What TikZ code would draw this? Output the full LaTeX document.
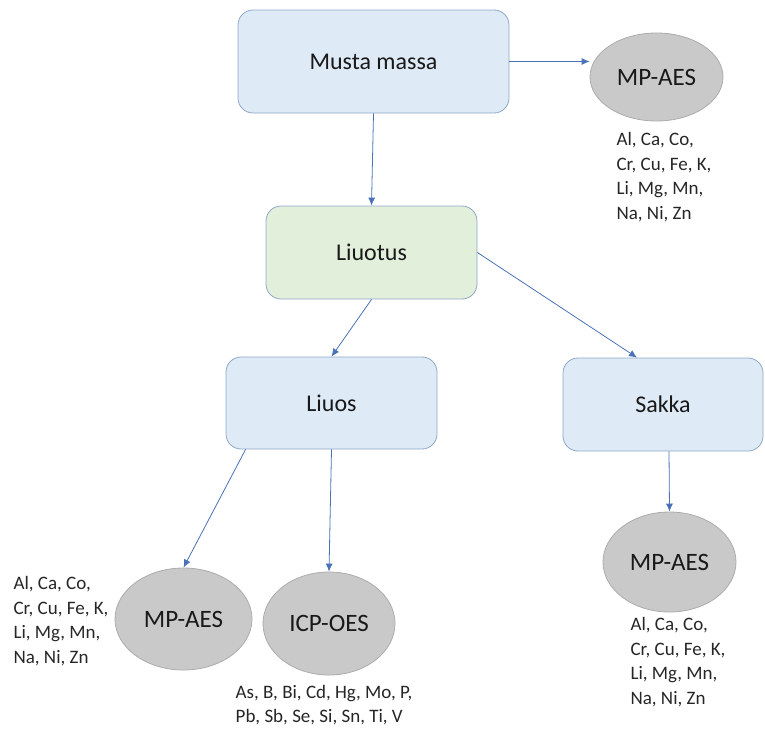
\documentclass[tikz,border=0pt]{standalone}
\usepackage{fontspec}
\setmainfont{Carlito}
\usetikzlibrary{arrows.meta,shapes.geometric}
\definecolor{boxblue}{HTML}{DEEAF6}
\definecolor{boxgreen}{HTML}{E2EFDA}
\definecolor{boxline}{HTML}{8EA8C8}
\definecolor{ovalgray}{HTML}{C9C9C9}
\definecolor{ovalline}{HTML}{ABABAB}
\definecolor{arrblue}{HTML}{4A72B8}
\tikzset{
	box/.style 2 args={draw=boxline,fill=boxblue,rounded corners=15pt,line width=0.8pt,minimum width=#1,minimum height=#2,font=\fontsize{24}{28}\selectfont,text=black!90},
	gbox/.style 2 args={box={#1}{#2},fill=boxgreen},
	oval/.style 2 args={ellipse,draw=ovalline,fill=ovalgray,line width=0.8pt,minimum width=#1,minimum height=#2,inner sep=0pt,font=\fontsize{25}{29}\selectfont,text=black!90},
	elist/.style={align=left,inner sep=0pt,font=\fontsize{19}{24.5}\selectfont,text=black!85},
	arr/.style={draw=arrblue,line width=0.8pt,-{Latex[length=8pt,width=7pt]}}
}
\begin{document}
\begin{tikzpicture}[x=1pt,y=-1pt]
	\useasboundingbox (0,0) rectangle (765,728);
	\node [box={271pt}{103pt}] (musta) at (373.5,61.5) {Musta massa};
	\node [gbox={211pt}{93pt}] (liuotus) at (371.5,252.5) {Liuotus};
	\node [box={211pt}{92pt}] (liuos) at (331.5,403) {Liuos};
	\node [box={200pt}{93pt}] (sakka) at (663,404.5) {Sakka};
	
	\node [oval={133pt}{88pt}] (mp1) at (656.5,77) {MP-AES};
	\node [oval={137pt}{102pt}] (mp2) at (183.5,619) {MP-AES};
	\node [oval={132pt}{103pt}] (icp) at (329,623.5) {ICP-OES};
	\node [oval={133pt}{100pt}] (mp3) at (669.5,562) {MP-AES};
	
	\node [elist] (l1) at (664,177) {Al, Ca, Co,\\Cr, Cu, Fe, K,\\Li, Mg, Mn,\\Na, Ni, Zn};
	\node [elist] (l2) at (61,621) {Al, Ca, Co,\\Cr, Cu, Fe, K,\\Li, Mg, Mn,\\Na, Ni, Zn};
	\node [elist] (l3) at (324,705) {As, B, Bi, Cd, Hg, Mo, P,\\Pb, Sb, Se, Si, Sn, Ti, V};
	\node [elist] (l4) at (678,662) {Al, Ca, Co,\\Cr, Cu, Fe, K,\\Li, Mg, Mn,\\Na, Ni, Zn};
	
	\draw [arr] (musta.east) -- (musta.east -| mp1.west);
	\draw [arr] (musta.south) -- (liuotus.north);
	\draw [arr] (liuotus.south) -- (liuos.north);
	\draw [arr] (liuotus.east) -- ([xshift=-26pt]sakka.north);
	\draw [arr] ([xshift=20pt]liuos.south west) -- (mp2.north);
	\draw [arr] (liuos.south) -- (icp.north);
	\draw [arr] ([xshift=6pt]sakka.south) -- (mp3.north);
\end{tikzpicture}
\end{document}
